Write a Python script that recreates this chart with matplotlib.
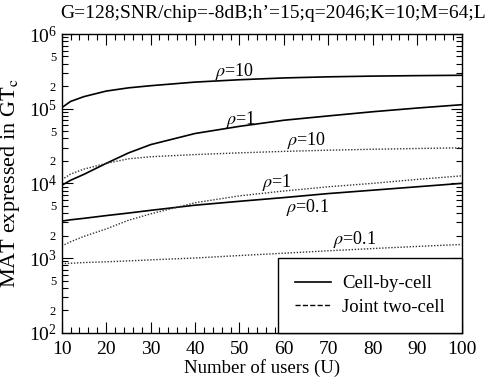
import math
import matplotlib
matplotlib.use("Agg")
import matplotlib.pyplot as plt
from matplotlib.lines import Line2D
from matplotlib.ticker import LogLocator, FuncFormatter, MultipleLocator, NullFormatter

plt.rcParams['font.family'] = ['Liberation Serif', 'DejaVu Serif']
plt.rcParams['mathtext.fontset'] = 'stix'

users = [10, 12, 15, 20, 25, 30, 40, 50, 60, 70, 80, 90, 100]

cell_rho10 = [1.03e5, 1.25e5, 1.45e5, 1.72e5, 1.90e5, 2.03e5, 2.27e5, 2.44e5, 2.58e5, 2.67e5, 2.73e5, 2.77e5, 2.80e5]
cell_rho1 = [9.4e3, 1.10e4, 1.32e4, 1.85e4, 2.55e4, 3.30e4, 4.65e4, 5.80e4, 7.00e4, 8.00e4, 9.10e4, 1.02e5, 1.13e5]
cell_rho01 = [3.12e3, 3.25e3, 3.40e3, 3.70e3, 4.00e3, 4.35e3, 5.10e3, 5.75e3, 6.45e3, 7.30e3, 8.10e3, 9.00e3, 1.00e4]

joint_rho10 = [1.12e4, 1.33e4, 1.55e4, 1.85e4, 2.13e4, 2.27e4, 2.43e4, 2.56e4, 2.68e4, 2.78e4, 2.86e4, 2.93e4, 2.99e4]
joint_rho1 = [1.45e3, 1.65e3, 1.95e3, 2.45e3, 3.20e3, 3.90e3, 5.50e3, 6.80e3, 7.90e3, 9.00e3, 1.00e4, 1.13e4, 1.26e4]
joint_rho01 = [840, 850, 870, 890, 915, 945, 1000, 1080, 1160, 1250, 1340, 1430, 1520]

labels_text = [r'$\rho$=10', r'$\rho$=1', r'$\rho$=10', r'$\rho$=1', r'$\rho$=0.1', r'$\rho$=0.1']
labels_x = [48.8, 50.4, 65.0, 58.4, 65.4, 75.9]
labels_y = [3.1e5, 7.24e4, 3.8e4, 1.02e4, 4.71e3, 1.77e3]

legend_labels = ['Cell-by-cell', 'Joint two-cell']
title = "G=128;SNR/chip=-8dB;h\u2019=15;q=2046;K=10;M=64;L=2"

fig = plt.figure(figsize=(4.86, 3.78), dpi=100)
ax = fig.add_axes([61.7/486, 1 - 332.7/378, (461.7-61.7)/486, (332.7-34)/378])

for s in [cell_rho10, cell_rho1, cell_rho01]:
    ax.plot(users, s, color='black', lw=1.2, ls='-')
for s in [joint_rho10, joint_rho1, joint_rho01]:
    ax.plot(users, s, color='#333333', lw=1.0, ls=(0, (1, 1.2)))

for t, x, y in zip(labels_text, labels_x, labels_y):
    ax.text(x, y, t, ha='center', va='center', fontsize=13)

ax.set_yscale('log')
ax.set_xlim(10, 100)
ax.set_ylim(1e2, 1e6)
ax.xaxis.set_major_locator(MultipleLocator(10))
ax.xaxis.set_minor_locator(MultipleLocator(2))
ax.yaxis.set_major_locator(LogLocator(base=10, numticks=10))
ax.yaxis.set_minor_locator(LogLocator(base=10, subs=(2, 3, 4, 5, 6, 7, 8, 9), numticks=20))

def minor_fmt(v, pos):
    m = round(v / 10 ** math.floor(math.log10(v) + 1e-9))
    return str(m) if m in (2, 5) else ''
ax.yaxis.set_minor_formatter(FuncFormatter(minor_fmt))
ax.xaxis.set_minor_formatter(NullFormatter())

ax.tick_params(which='both', direction='in', top=True, right=True, width=0.8)
ax.tick_params(which='major', length=8, labelsize=14)
ax.tick_params(which='minor', length=4)
ax.tick_params(axis='y', which='minor', labelsize=9, pad=4)
ax.tick_params(axis='x', which='major', pad=6)
for sp in ax.spines.values():
    sp.set_linewidth(1.0)

ax.set_xlabel('Number of users (U)', fontsize=13.5, labelpad=1)
ax.set_ylabel(r'MAT expressed in GT$_\mathrm{c}$', fontsize=16)
ax.yaxis.set_label_coords(-0.10, 0.5)

handles = [Line2D([], [], color='black', lw=1.2, ls='-'),
           Line2D([], [], color='black', lw=1.0, ls='--')]
leg = ax.legend(handles, legend_labels, loc='lower right', borderaxespad=0,
                fancybox=False, edgecolor='black', framealpha=1, fontsize=13.5,
                handlelength=1.9, borderpad=0.9, labelspacing=0.35, handletextpad=0.6)
leg.get_frame().set_linewidth(1.0)

fig.text(60/486, 1 - 13/378, title, ha='left', va='center', fontsize=14)

fig.savefig('out.png', dpi=100)
